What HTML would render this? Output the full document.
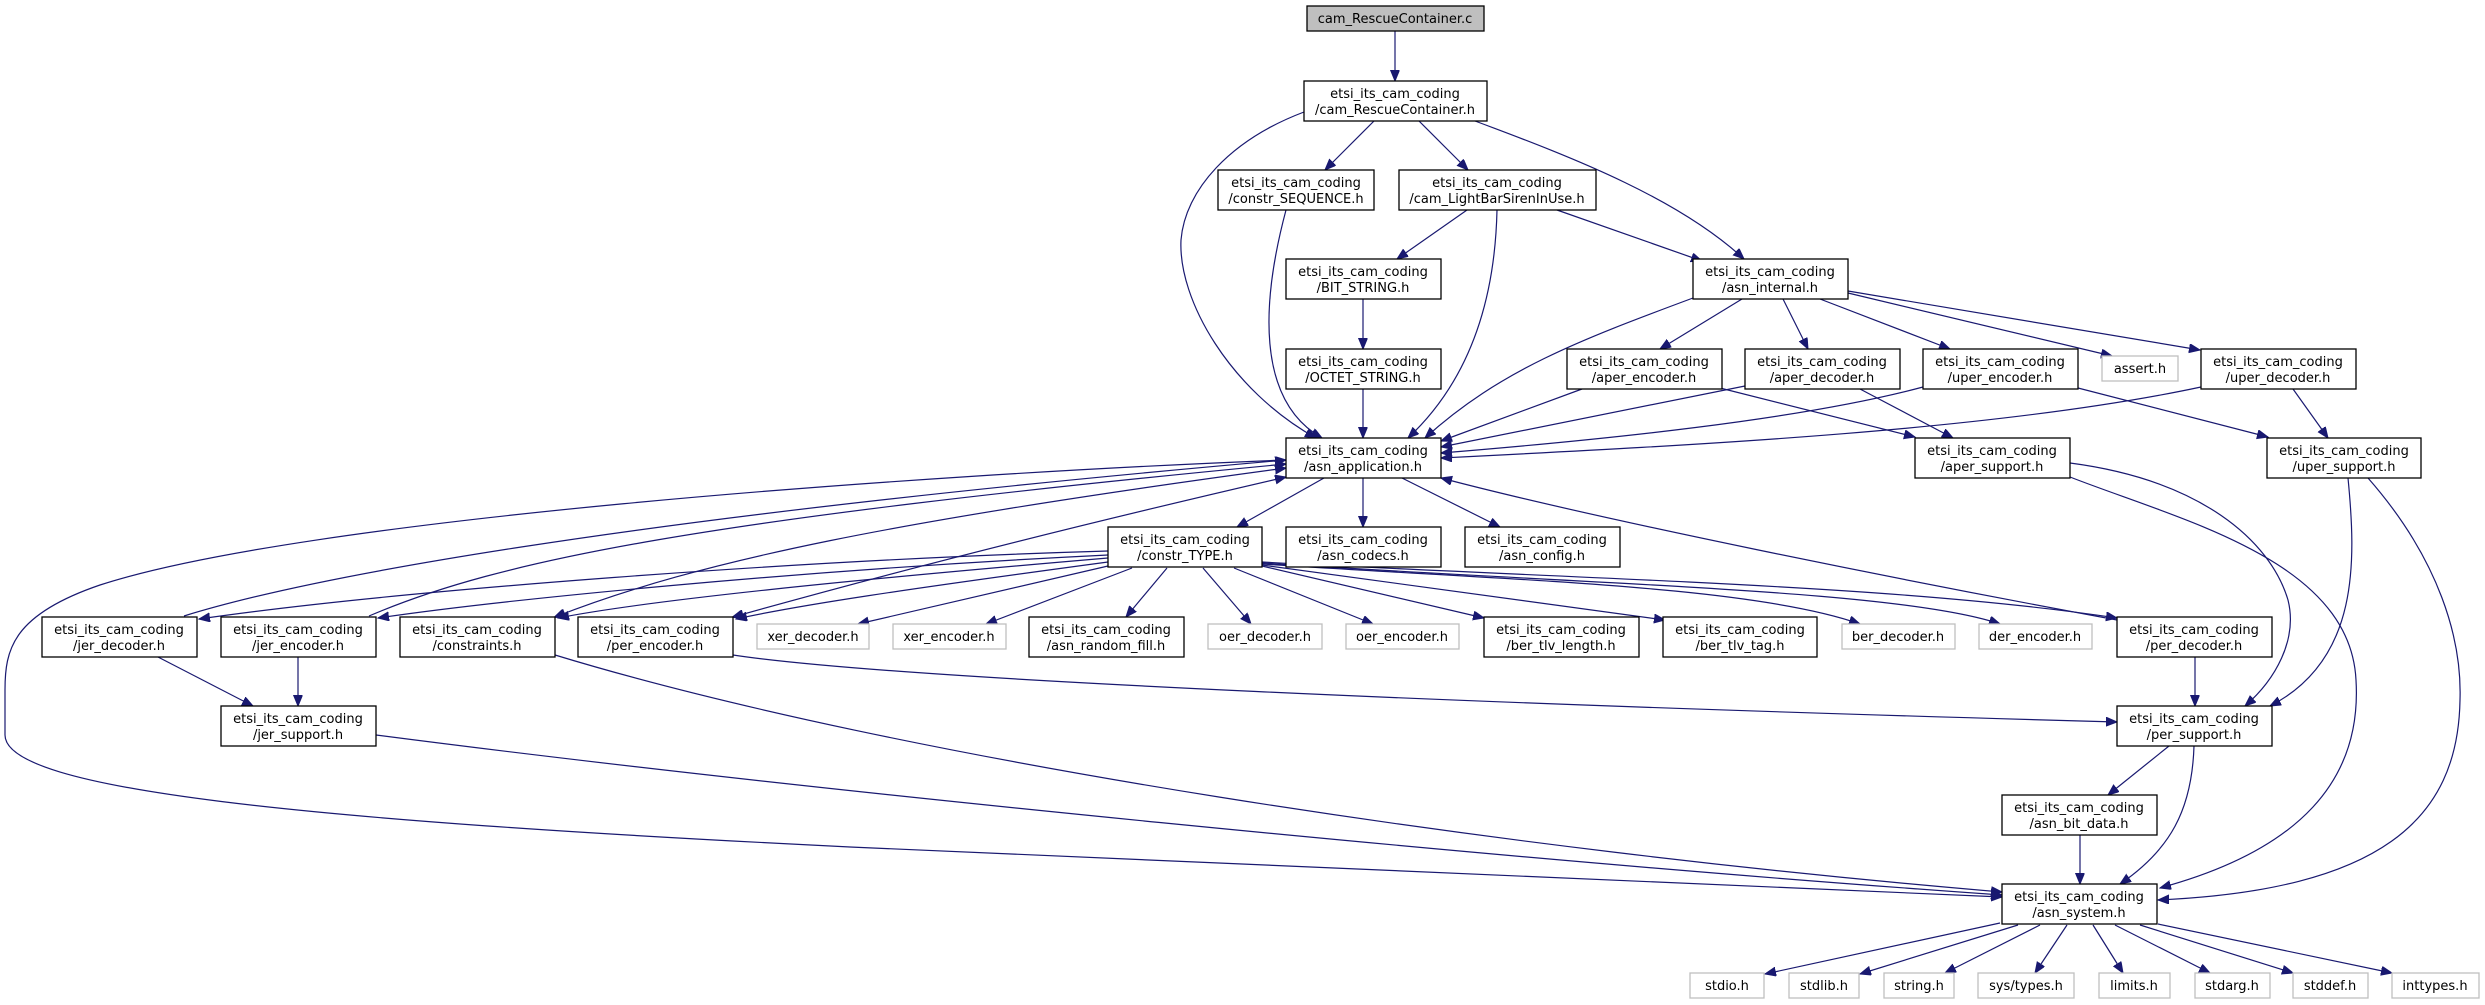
<!DOCTYPE html>
<html><head><meta charset="utf-8"><style>
html,body{margin:0;padding:0;background:#fff;}
svg{display:block;}
text{font-family:"DejaVu Sans","Liberation Sans",sans-serif;font-size:13px;fill:#000;text-anchor:middle;}
.n{fill:#fff;stroke:#000;stroke-width:1.3;}
.g{fill:#fff;stroke:#bfbfbf;stroke-width:1.3;}
.e{fill:none;stroke:#191970;stroke-width:1.2;}
</style></head><body>
<svg width="2485" height="1005" viewBox="0 0 2485 1005" xmlns="http://www.w3.org/2000/svg">
<defs>
<marker id="a" markerWidth="12" markerHeight="10" refX="11" refY="4.5" orient="auto" markerUnits="userSpaceOnUse">
<path d="M0,0 L11,4.5 L0,9 Z" fill="#191970" stroke="#191970"/>
</marker>
<marker id="s" markerWidth="12" markerHeight="10" refX="1" refY="4.5" orient="auto" markerUnits="userSpaceOnUse">
<path d="M11,0 L0,4.5 L11,9 Z" fill="#191970" stroke="#191970"/>
</marker>
</defs>

<g class="e" marker-end="url(#a)">
<path d="M1395,31 L1395,81"/>
<path d="M1374,121 L1325,170"/>
<path d="M1419,121 L1468,170"/>
<path d="M1475,121 C1580,160 1680,200 1744,259"/>
<path d="M1304,112 C1230,140 1185,190 1181,240 C1178,300 1230,390 1316,438"/>
<path d="M1286,210 C1262,300 1255,400 1322,438"/>
<path d="M1467,210 L1397,259"/>
<path d="M1497,210 C1495,300 1470,380 1408,438"/>
<path d="M1557,210 L1702,261"/>
<path d="M1363,299 L1363,349"/>
<path d="M1363,389 L1363,438"/>
<path d="M1693,298 C1580,340 1500,370 1425,438"/>
<path d="M1742,299 L1660,349"/>
<path d="M1783,299 L1808,349"/>
<path d="M1820,299 L1950,349"/>
<path d="M1848,293 L2112,356"/>
<path d="M1848,291 L2200,350"/>
<path d="M1582,389 L1441,441"/>
<path d="M1720,388 L1915,437"/>
<path d="M1745,386 L1441,447"/>
<path d="M1860,389 L1953,438"/>
<path d="M1923,387 C1800,420 1600,440 1441,453"/>
<path d="M2078,388 L2268,437"/>
<path d="M2201,387 C2000,430 1700,445 1441,458"/>
<path d="M2293,389 L2328,438"/>
<path d="M2070,463 C2200,480 2270,540 2288,600 C2298,640 2275,680 2245,706"/>
<path d="M2070,477 C2180,520 2350,560 2356,680 C2362,780 2300,850 2160,888"/>
<path d="M2348,478 C2356,560 2360,660 2270,706"/>
<path d="M2368,478 C2440,560 2462,640 2460,700 C2458,820 2380,890 2158,900"/>
<path d="M2195,657 L2195,706"/>
<path d="M2169,746 L2108,795"/>
<path d="M2194,746 C2192,810 2170,850 2120,884"/>
<path d="M2080,835 L2080,884"/>
<path d="M2000,923 L1765,974"/>
<path d="M2018,925 L1860,974"/>
<path d="M2040,925 L1945,973"/>
<path d="M2067,925 L2035,973"/>
<path d="M2093,925 L2123,973"/>
<path d="M2115,925 L2210,973"/>
<path d="M2140,925 L2293,973"/>
<path d="M2158,924 L2392,973"/>
<path d="M1324,478 L1237,527"/>
<path d="M1363,478 L1363,527"/>
<path d="M1402,478 L1500,527"/>
<path d="M2117,620 C1900,580 1600,520 1441,478"/>
<path d="M1286,460 C900,475 300,520 100,585 C12,615 5,650 5,690 L5,735 C5,790 300,820 850,847 C1300,870 1700,885 2002,897"/>
<path d="M184,616 C300,580 600,520 1286,460"/>
<path d="M369,616 C500,560 700,520 1286,464"/>
<path d="M1108,551 C800,560 400,590 199,619"/>
<path d="M1108,555 C800,570 500,600 378,618"/>
<path d="M1108,558 C850,580 650,600 558,618"/>
<path d="M1108,562 C900,590 800,605 736,619"/>
<path d="M1108,566 L858,624"/>
<path d="M1132,568 L986,624"/>
<path d="M1167,568 L1126,617"/>
<path d="M1203,568 L1251,624"/>
<path d="M1234,568 L1373,624"/>
<path d="M1262,566 L1484,618"/>
<path d="M1262,565 L1665,620"/>
<path d="M1262,564 C1500,580 1750,585 1860,624"/>
<path d="M1262,563 C1600,585 1900,590 2000,624"/>
<path d="M1262,562 C1600,580 1900,585 2117,618"/>
<path d="M555,655 C900,760 1500,850 2002,892"/>
<path d="M733,655 C900,680 1500,705 2117,722"/>
<path d="M376,735 C800,790 1500,860 2002,895"/>
<path d="M158,657 L253,706"/>
<path d="M298,657 L298,706"/>
</g>
<g class="e" marker-start="url(#s)" marker-end="url(#a)">
<path d="M555,617 C700,560 900,520 1286,468"/>
<path d="M733,617 C900,570 1100,520 1286,477"/>
</g>

<rect x="1307" y="6" width="177" height="25" fill="#bfbfbf" stroke="#000" stroke-width="1.3"/>
<text x="1395" y="23">cam_RescueContainer.c</text>

<g>
<rect class="n" x="1304" y="81" width="183" height="40"/><text x="1395" y="98">etsi_its_cam_coding</text><text x="1395" y="114">/cam_RescueContainer.h</text>
<rect class="n" x="1218" y="170" width="156" height="40"/><text x="1296" y="187">etsi_its_cam_coding</text><text x="1296" y="203">/constr_SEQUENCE.h</text>
<rect class="n" x="1399" y="170" width="197" height="40"/><text x="1497" y="187">etsi_its_cam_coding</text><text x="1497" y="203">/cam_LightBarSirenInUse.h</text>
<rect class="n" x="1286" y="259" width="155" height="40"/><text x="1363" y="276">etsi_its_cam_coding</text><text x="1363" y="292">/BIT_STRING.h</text>
<rect class="n" x="1693" y="259" width="155" height="40"/><text x="1770" y="276">etsi_its_cam_coding</text><text x="1770" y="292">/asn_internal.h</text>
<rect class="n" x="1286" y="349" width="155" height="40"/><text x="1363" y="366">etsi_its_cam_coding</text><text x="1363" y="382">/OCTET_STRING.h</text>
<rect class="n" x="1567" y="349" width="155" height="40"/><text x="1644" y="366">etsi_its_cam_coding</text><text x="1644" y="382">/aper_encoder.h</text>
<rect class="n" x="1745" y="349" width="155" height="40"/><text x="1822" y="366">etsi_its_cam_coding</text><text x="1822" y="382">/aper_decoder.h</text>
<rect class="n" x="1923" y="349" width="155" height="40"/><text x="2000" y="366">etsi_its_cam_coding</text><text x="2000" y="382">/uper_encoder.h</text>
<rect class="g" x="2102" y="356" width="76" height="25"/><text x="2140" y="373">assert.h</text>
<rect class="n" x="2201" y="349" width="155" height="40"/><text x="2278" y="366">etsi_its_cam_coding</text><text x="2278" y="382">/uper_decoder.h</text>
<rect class="n" x="1286" y="438" width="155" height="40"/><text x="1363" y="455">etsi_its_cam_coding</text><text x="1363" y="471">/asn_application.h</text>
<rect class="n" x="1915" y="438" width="155" height="40"/><text x="1992" y="455">etsi_its_cam_coding</text><text x="1992" y="471">/aper_support.h</text>
<rect class="n" x="2267" y="438" width="154" height="40"/><text x="2344" y="455">etsi_its_cam_coding</text><text x="2344" y="471">/uper_support.h</text>
<rect class="n" x="1108" y="527" width="154" height="40"/><text x="1185" y="544">etsi_its_cam_coding</text><text x="1185" y="560">/constr_TYPE.h</text>
<rect class="n" x="1286" y="527" width="155" height="40"/><text x="1363" y="544">etsi_its_cam_coding</text><text x="1363" y="560">/asn_codecs.h</text>
<rect class="n" x="1465" y="527" width="155" height="40"/><text x="1542" y="544">etsi_its_cam_coding</text><text x="1542" y="560">/asn_config.h</text>

<rect class="n" x="42" y="617" width="155" height="40"/><text x="119" y="634">etsi_its_cam_coding</text><text x="119" y="650">/jer_decoder.h</text>
<rect class="n" x="221" y="617" width="155" height="40"/><text x="298" y="634">etsi_its_cam_coding</text><text x="298" y="650">/jer_encoder.h</text>
<rect class="n" x="400" y="617" width="155" height="40"/><text x="477" y="634">etsi_its_cam_coding</text><text x="477" y="650">/constraints.h</text>
<rect class="n" x="578" y="617" width="155" height="40"/><text x="655" y="634">etsi_its_cam_coding</text><text x="655" y="650">/per_encoder.h</text>
<rect class="g" x="757" y="624" width="112" height="25"/><text x="813" y="641">xer_decoder.h</text>
<rect class="g" x="893" y="624" width="113" height="25"/><text x="949" y="641">xer_encoder.h</text>
<rect class="n" x="1029" y="617" width="155" height="40"/><text x="1106" y="634">etsi_its_cam_coding</text><text x="1106" y="650">/asn_random_fill.h</text>
<rect class="g" x="1208" y="624" width="114" height="25"/><text x="1265" y="641">oer_decoder.h</text>
<rect class="g" x="1346" y="624" width="113" height="25"/><text x="1402" y="641">oer_encoder.h</text>
<rect class="n" x="1484" y="617" width="155" height="40"/><text x="1561" y="634">etsi_its_cam_coding</text><text x="1561" y="650">/ber_tlv_length.h</text>
<rect class="n" x="1663" y="617" width="154" height="40"/><text x="1740" y="634">etsi_its_cam_coding</text><text x="1740" y="650">/ber_tlv_tag.h</text>
<rect class="g" x="1842" y="624" width="113" height="25"/><text x="1898" y="641">ber_decoder.h</text>
<rect class="g" x="1979" y="624" width="113" height="25"/><text x="2035" y="641">der_encoder.h</text>
<rect class="n" x="2117" y="617" width="155" height="40"/><text x="2194" y="634">etsi_its_cam_coding</text><text x="2194" y="650">/per_decoder.h</text>

<rect class="n" x="221" y="706" width="155" height="40"/><text x="298" y="723">etsi_its_cam_coding</text><text x="298" y="739">/jer_support.h</text>
<rect class="n" x="2117" y="706" width="155" height="40"/><text x="2194" y="723">etsi_its_cam_coding</text><text x="2194" y="739">/per_support.h</text>
<rect class="n" x="2002" y="795" width="155" height="40"/><text x="2079" y="812">etsi_its_cam_coding</text><text x="2079" y="828">/asn_bit_data.h</text>
<rect class="n" x="2002" y="884" width="155" height="40"/><text x="2079" y="901">etsi_its_cam_coding</text><text x="2079" y="917">/asn_system.h</text>

<rect class="g" x="1690" y="973" width="74" height="25"/><text x="1727" y="990">stdio.h</text>
<rect class="g" x="1789" y="973" width="70" height="25"/><text x="1824" y="990">stdlib.h</text>
<rect class="g" x="1884" y="973" width="70" height="25"/><text x="1919" y="990">string.h</text>
<rect class="g" x="1978" y="973" width="96" height="25"/><text x="2026" y="990">sys/types.h</text>
<rect class="g" x="2099" y="973" width="71" height="25"/><text x="2134" y="990">limits.h</text>
<rect class="g" x="2195" y="973" width="75" height="25"/><text x="2232" y="990">stdarg.h</text>
<rect class="g" x="2293" y="973" width="75" height="25"/><text x="2330" y="990">stddef.h</text>
<rect class="g" x="2392" y="973" width="87" height="25"/><text x="2435" y="990">inttypes.h</text>
</g>
</svg>
</body></html>
